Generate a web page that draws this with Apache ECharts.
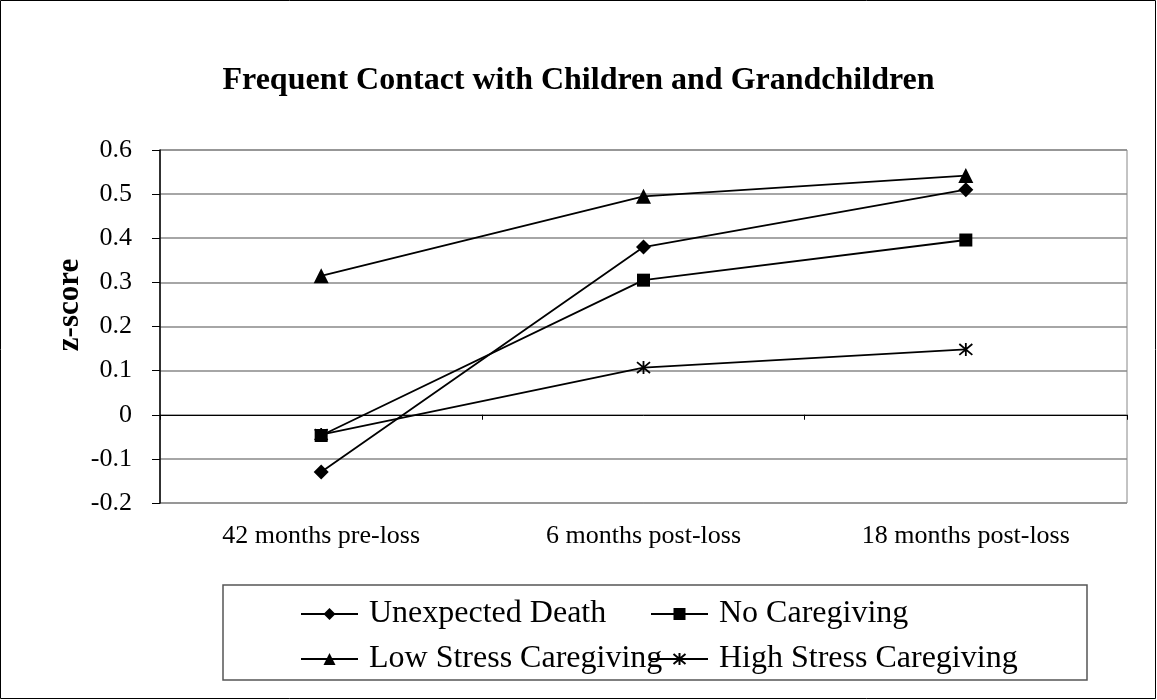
<!DOCTYPE html>
<html>
<head>
<meta charset="utf-8">
<script src="https://cdn.jsdelivr.net/npm/echarts@6/dist/echarts.min.js"></script>
<style>
  html, body { margin: 0; padding: 0; background: #fff; }
  #chart { width: 1157px; height: 700px; }
</style>
</head>
<body>
<div id="chart"></div>
<script>
const categories = ['42 months pre-loss', '6 months post-loss', '18 months post-loss']
const unexpectedDeath = [-0.13, 0.38, 0.51]
const noCaregiving = [-0.047, 0.305, 0.396]
const lowStress = [0.315, 0.495, 0.542]
const highStress = [-0.045, 0.107, 0.148]
const seriesNames = ['Unexpected Death', 'No Caregiving', 'Low Stress Caregiving', 'High Stress Caregiving']

const FONT = '"Liberation Serif", "Times New Roman", serif'
const asterisk = 'path://M0,0L10,10M10,0L0,10M5,-1L5,11'

const chart = echarts.init(document.getElementById('chart'), null, { renderer: 'canvas' })

function makeSeries(name, data, symbol, size, extra) {
  return Object.assign({
    name: name,
    type: 'line',
    data: data,
    symbol: symbol,
    symbolSize: size,
    color: '#000',
    lineStyle: { color: '#000', width: 1.8 },
    itemStyle: { color: '#000' },
    emphasis: { disabled: true },
    animation: false,
    z: 3
  }, extra || {})
}

function makeLegend(name, left, top) {
  return {
    data: [name],
    left: left,
    top: top,
    itemWidth: 57,
    itemHeight: 15,
    padding: 0,
    textStyle: { fontFamily: FONT, fontSize: 32, color: '#000', padding: [0, 0, 0, 6] }
  }
}

const option = {
  backgroundColor: '#fff',
  animation: false,
  title: {
    text: 'Frequent Contact with Children and Grandchildren',
    left: 'center',
    top: 60,
    textStyle: { fontFamily: FONT, fontSize: 32, fontWeight: 'bold', color: '#000' }
  },
  legend: [
    makeLegend(seriesNames[0], 300, 598),
    makeLegend(seriesNames[1], 650, 598),
    makeLegend(seriesNames[2], 300, 643),
    makeLegend(seriesNames[3], 650, 643)
  ],
  grid: {
    left: 160,
    right: 30,
    top: 150,
    bottom: 197,
    show: true,
    borderColor: '#888',
    borderWidth: 1
  },
  xAxis: [
    {
      type: 'category',
      data: categories,
      boundaryGap: true,
      position: 'bottom',
      axisLine: { show: false, onZero: false },
      axisTick: { show: false },
      axisLabel: { fontFamily: FONT, fontSize: 26, color: '#000', margin: 20 }
    },
    {
      type: 'category',
      data: categories,
      boundaryGap: true,
      position: 'bottom',
      axisLine: { show: true, onZero: true, lineStyle: { color: '#000', width: 1 } },
      axisTick: { show: true, length: 5, lineStyle: { color: '#000' } },
      axisLabel: { show: false }
    }
  ],
  yAxis: {
    type: 'value',
    min: -0.2,
    max: 0.6,
    interval: 0.1,
    axisLine: { show: true, lineStyle: { color: '#000', width: 1.5 } },
    axisTick: { show: true, length: 8, lineStyle: { color: '#000' } },
    axisLabel: {
      fontFamily: FONT,
      fontSize: 26,
      color: '#000',
      margin: 28,
      formatter: v => (Math.abs(v) < 1e-9 ? '0' : v.toFixed(1))
    },
    splitLine: { show: true, lineStyle: { color: '#888', width: 1.5 } }
  },
  graphic: [
    {
      type: 'rect',
      shape: { x: 0.5, y: 0.5, width: 1155, height: 698 },
      style: { fill: null, stroke: '#000', lineWidth: 1 },
      silent: true
    },
    {
      type: 'rect',
      shape: { x: 223, y: 585, width: 864, height: 95 },
      style: { fill: null, stroke: '#555', lineWidth: 1.5 },
      silent: true
    },
    {
      type: 'text',
      x: 70,
      y: 305,
      rotation: Math.PI / 2,
      style: {
        text: 'z-score',
        font: 'bold 31px ' + FONT,
        fill: '#000',
        align: 'center',
        verticalAlign: 'middle'
      },
      silent: true
    }
  ],
  series: [
    makeSeries(seriesNames[0], unexpectedDeath, 'diamond', 15),
    makeSeries(seriesNames[1], noCaregiving, 'rect', 13),
    makeSeries(seriesNames[2], lowStress, 'triangle', 15),
    makeSeries(seriesNames[3], highStress, asterisk, 13, {
      itemStyle: { color: '#000', borderColor: '#000', borderWidth: 1.8 }
    })
  ]
}

chart.setOption(option)
</script>
</body>
</html>
